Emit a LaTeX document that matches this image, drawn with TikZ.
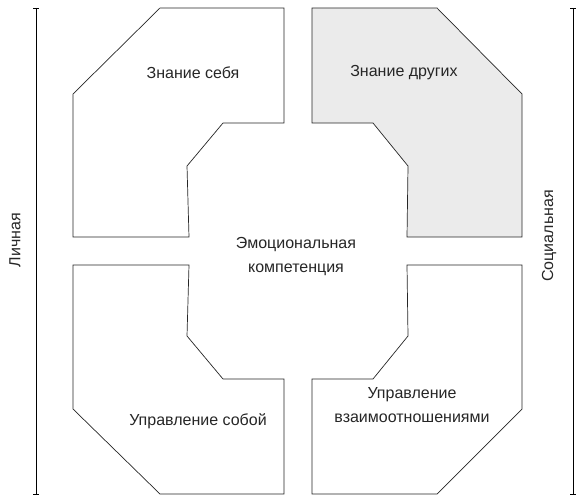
\documentclass[tikz,border=0pt]{standalone}
\usepackage{fontspec}
\setmainfont{Liberation Sans}
\begin{document}
\begin{tikzpicture}[x=1pt,y=-1pt,
  blockshape/.style={draw=black!85,line width=0.7pt,line join=miter},
  lbl/.style={font=\fontsize{16}{24}\selectfont,text=black!85,align=center,inner sep=0pt},
  axis/.style={draw=black,line width=0.9pt}]
\useasboundingbox (0,0) rectangle (580,503);
% top-left
\draw[blockshape] (160,8) -- (284,8) -- (284,123) -- (223,123) -- (187,166) -- (189,237) -- (73,237) -- (73,94) -- cycle;
% top-right
\draw[blockshape,fill=black!8] (312,8) -- (437,8) -- (522,94) -- (522,237) -- (407,237) -- (408,166) -- (373,123) -- (312,123) -- cycle;
% bottom-left
\draw[blockshape] (73,265) -- (189,265) -- (187,336) -- (223,379) -- (284,379) -- (284,494) -- (160,494) -- (73,409) -- cycle;
% bottom-right
\draw[blockshape] (407,265) -- (522,265) -- (522,409) -- (437,494) -- (312,494) -- (312,379) -- (373,379) -- (408,336) -- cycle;
% axes
\coordinate (lt) at (36,8); \coordinate (lb) at (36,494);
\coordinate (rt) at (573,8); \coordinate (rb) at (573,494);
\draw[axis] (lt) -- (lb);
\draw[axis] ([xshift=-3]lt) -- ([xshift=3]lt);
\draw[axis] ([xshift=-3]lb) -- ([xshift=3]lb);
\draw[axis] (rt) -- (rb);
\draw[axis] ([xshift=-3]rt) -- ([xshift=3]rt);
\draw[axis] ([xshift=-3]rb) -- ([xshift=3]rb);
% labels
\node[lbl] (ks) at (193,73) {Знание себя};
\node[lbl] (kd) at (404,73) {Знание других};
\node[lbl] (ec) at (296,257) {Эмоциональная\\компетенция};
\node[lbl] (us) at (198,421) {Управление собой};
\node[lbl] (uv) at (412,405) {Управление\\взаимоотношениями};
\node[lbl,rotate=90] (li) at (15,240) {Личная};
\node[lbl,rotate=90] (so) at (549,236) {Социальная};
\end{tikzpicture}
\end{document}
